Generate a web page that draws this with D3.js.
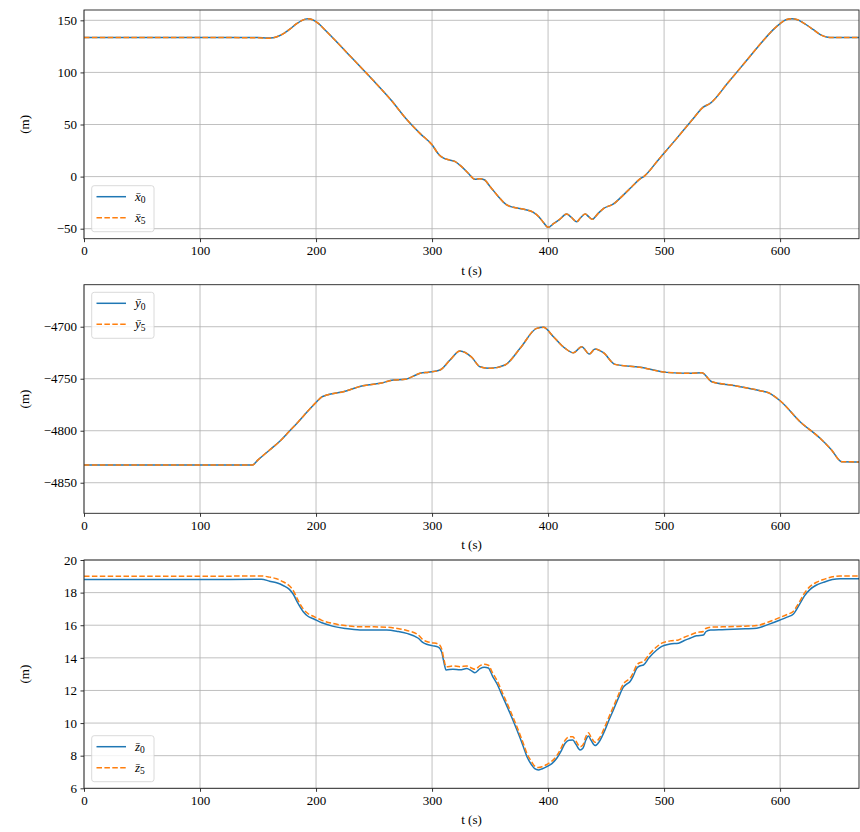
<!DOCTYPE html>
<html><head><meta charset="utf-8">
<script src="https://cdn.jsdelivr.net/npm/d3@7"></script>
<style>body{margin:0;background:#fff}svg{display:block}text{font-family:"Liberation Serif","DejaVu Serif",serif;fill:#000}</style>
</head><body><svg id="c" width="860" height="832"></svg>
<script>
// ---- data ----
const tX = [0,100,150,158,163,168,173,178,183,188,193,197,202,208,215,230,250,265,278,290,300,306,310,315,320,325,331,337,341,345,350,357,364,370,380,387,392,396,400,405,410,416,420,424.7,428,432,435,438,443,448,456,465,472,479,483,495,510,525,533,540,555,570,585,595,600,605,610,615,620,628.7,635,640,645,668];
const x0 = [133.5,133.5,133.5,133,133.3,135,138,142,146.5,150,151.5,150.5,147,140.5,132.5,115,91.5,73,55,41,30.5,21,17.7,16,14.4,10,3.5,-2.5,-2,-3,-9.5,-19,-27,-29.5,-31.5,-34,-38.5,-44,-48.7,-45,-41,-36,-39,-43.3,-39.5,-36,-38.5,-41,-35.5,-30.5,-26.5,-17.5,-10,-2.5,0.5,16,35.5,55.5,66,70.5,90,110,130,142,146.8,150.5,151.6,150.5,147.5,141,136,134,133.5,133.5];
const x5 = [133.5,133.5,133.2,132.7,133.2,135,138,142,146.5,150,151.5,150.5,147,140.5,132.5,115,91.5,73,55,41,30.5,21,17.7,16,14.4,10,3.5,-2.5,-2,-3,-9.5,-19,-27,-29.5,-31.5,-34,-38.5,-44,-48.7,-45,-41,-36,-39,-43.3,-39.5,-36,-38.5,-41,-35.5,-30.5,-26.5,-17.5,-10,-2.5,0.5,16,35.5,55.5,66,70.5,90,110,130,142,146.8,150.5,151.6,150.5,147.5,141,136,134,133.5,133.5];

const tY = [0,145,150,160,169,177,184.8,193,200.6,205,209.2,223.5,239.4,255.2,266.7,276.7,283,289.7,297,306.9,315.5,324.1,334.2,341.4,350,362.9,375.9,390.2,396,404.6,414.7,421.8,429,435.6,440.5,447.7,457.8,479.3,502.3,522.4,532.5,541.1,560,582.8,590,600,617.2,634.5,644,653.2,668];
const y0 = [-4833,-4833,-4828,-4818.5,-4809.9,-4800.5,-4791.3,-4781,-4772.1,-4767.5,-4765.7,-4762.5,-4757,-4754.4,-4751.3,-4750.6,-4748,-4744.8,-4743.7,-4741.6,-4732,-4723.4,-4729.4,-4738.5,-4740,-4736.8,-4720.8,-4701.6,-4700.6,-4709.6,-4720.8,-4725,-4719.2,-4726.3,-4721.4,-4725,-4736.2,-4739,-4743.9,-4744.8,-4744.2,-4752.9,-4756.5,-4761.5,-4763.5,-4771.2,-4791.3,-4807.3,-4818,-4829.8,-4830];
const y5 = [-4833,-4833,-4828,-4818.5,-4809.9,-4800.5,-4791.3,-4781,-4772.1,-4767.5,-4765.7,-4762.5,-4757,-4754.4,-4751.3,-4750.6,-4748,-4744.8,-4743.7,-4741.6,-4732,-4723.4,-4729.4,-4738.5,-4740,-4736.8,-4720.8,-4701.6,-4700.6,-4709.6,-4720.8,-4725,-4719.2,-4726.3,-4721.4,-4725,-4736.2,-4739,-4743.9,-4744.8,-4744.2,-4752.9,-4756.5,-4761.5,-4763.5,-4771.2,-4791.3,-4807.3,-4818,-4829.8,-4830];

const tZ = [0,100,153,160,166,172,177,180.4,184,189,193,197.7,205,214.9,225,237.9,250,260.9,270,278.2,288.2,292,295.4,300,305.4,308.3,310,312.1,318,324.1,329.9,334,337,341.4,345,348.5,352,355.7,361,367.2,373,378.7,382,385.9,388.5,391.6,395,398.9,403,407.5,411,414.7,418,421.3,424,427.6,430,432.5,434.8,437,440.5,444,449.1,452,456.3,461,464.9,468,470.7,473.5,476.4,479,482.2,487,493.7,498,505.2,512.4,517,522.4,528,533.9,536,540,550,559.7,570,579.9,590,600,606,611.5,614,617.2,621,625.9,631,637.3,645,651.7,668];
const z0 = [18.8,18.8,18.82,18.7,18.6,18.42,18.2,17.9,17.4,16.83,16.55,16.4,16.15,15.93,15.8,15.71,15.71,15.7,15.62,15.5,15.2,14.95,14.83,14.75,14.66,14.35,13.8,13.26,13.3,13.27,13.34,13.2,13.09,13.34,13.42,13.38,12.9,12.44,11.6,10.6,9.6,8.55,7.9,7.43,7.2,7.12,7.2,7.33,7.5,7.84,8.25,8.76,8.95,8.96,8.7,8.35,8.45,8.95,9.2,8.95,8.62,8.85,9.58,10.1,10.8,11.6,12.2,12.4,12.55,12.9,13.36,13.5,13.56,14.0,14.48,14.7,14.85,14.9,15.05,15.2,15.35,15.4,15.6,15.7,15.73,15.75,15.78,15.82,16.05,16.32,16.5,16.69,16.95,17.34,17.8,18.2,18.45,18.63,18.8,18.85,18.85];
const z5 = [19.0,19.0,19.02,18.95,18.85,18.65,18.42,18.12,17.6,17.0,16.72,16.55,16.3,16.1,15.98,15.9,15.9,15.88,15.8,15.68,15.4,15.12,15.0,14.93,14.85,14.55,14.0,13.45,13.5,13.46,13.5,13.38,13.3,13.52,13.6,13.55,13.1,12.65,11.8,10.8,9.8,8.75,8.1,7.62,7.36,7.27,7.33,7.46,7.65,8.0,8.43,8.95,9.15,9.16,8.9,8.55,8.65,9.15,9.4,9.15,8.82,9.05,9.8,10.3,11.0,11.8,12.4,12.6,12.75,13.1,13.55,13.7,13.77,14.2,14.68,14.9,15.04,15.1,15.25,15.4,15.55,15.62,15.8,15.88,15.9,15.92,15.94,15.98,16.2,16.48,16.66,16.86,17.12,17.5,17.97,18.38,18.62,18.8,18.97,19.02,19.02];

const xTicks = [0,100,200,300,400,500,600];
const yTicksX = [-50,0,50,100,150];
const yTicksY = [-4850,-4800,-4750,-4700];
const yTicksZ = [6,8,10,12,14,16,18,20];
const legendNames = [["x̄","0","x̄","5"],["ȳ","0","ȳ","5"],["z̄","0","z̄","5"]];

// ---- drawing ----
const svg = d3.select("#c");
const L = 84, R = 859;
const panels = [
  {t:tX, a:x0, b:x5, top:10, bot:238.7, dom:[-59.6,159.9], ticks:yTicksX, legY:185.7, names:legendNames[0]},
  {t:tY, a:y0, b:y5, top:284.7, bot:513.3, dom:[-4879.4,-4659.6], ticks:yTicksY, legY:292.3, names:legendNames[1]},
  {t:tZ, a:z0, b:z5, top:560, bot:788.3, dom:[6,20], ticks:yTicksZ, legY:735.7, names:legendNames[2]}
];
const fmt = d => d < 0 ? "\u2212" + Math.abs(d) : String(d);

panels.forEach(p => {
  const x = d3.scaleLinear().domain([0,668]).range([L,R]);
  const y = d3.scaleLinear().domain(p.dom).range([p.bot,p.top]);
  const g = svg.append("g");
  // grid
  g.selectAll(".gx").data(xTicks).join("line")
    .attr("x1",d=>x(d)).attr("x2",d=>x(d)).attr("y1",p.top).attr("y2",p.bot)
    .attr("stroke","#b0b0b0").attr("stroke-width",0.8);
  g.selectAll(".gy").data(p.ticks).join("line")
    .attr("x1",L).attr("x2",R).attr("y1",d=>y(d)).attr("y2",d=>y(d))
    .attr("stroke","#b0b0b0").attr("stroke-width",0.8);
  // lines
  const data = p.t.map((t,i)=>({t, a:p.a[i], b:p.b[i]}));
  const clipId = "clip"+p.top;
  svg.append("clipPath").attr("id",clipId).append("rect")
    .attr("x",L).attr("y",p.top).attr("width",R-L).attr("height",p.bot-p.top);
  const lg = g.append("g").attr("clip-path",`url(#${clipId})`);
  lg.append("path").datum(data)
    .attr("d", d3.line().x(d=>x(d.t)).y(d=>y(d.a)).curve(d3.curveMonotoneX))
    .attr("fill","none").attr("stroke","#1f77b4").attr("stroke-width",1.5);
  lg.append("path").datum(data)
    .attr("d", d3.line().x(d=>x(d.t)).y(d=>y(d.b)).curve(d3.curveMonotoneX))
    .attr("fill","none").attr("stroke","#ff7f0e").attr("stroke-width",1.5)
    .attr("stroke-dasharray","5.5,2.4");
  // axes
  const ax = g.append("g").attr("transform",`translate(0,${p.bot})`)
    .call(d3.axisBottom(x).tickValues(xTicks).tickSize(3.5).tickPadding(3.5).tickFormat(d=>d));
  const ay = g.append("g").attr("transform",`translate(${L},0)`)
    .call(d3.axisLeft(y).tickValues(p.ticks).tickSize(3.5).tickPadding(3.5).tickFormat(fmt));
  [ax,ay].forEach(a=>{
    a.select(".domain").remove();
    a.selectAll(".tick line").attr("stroke","#000").attr("stroke-width",0.8);
    a.selectAll(".tick text").attr("font-size",13).attr("font-family","Liberation Serif, serif").attr("fill","#222");
  });
  // spines
  g.append("rect").attr("x",L).attr("y",p.top).attr("width",R-L).attr("height",p.bot-p.top)
    .attr("fill","none").attr("stroke","#222").attr("stroke-width",0.9);
  // labels
  g.append("text").attr("x",(L+R)/2).attr("y",p.bot+36).attr("text-anchor","middle")
    .attr("font-size",13).text("t (s)");
  g.append("text").attr("transform",`translate(29,${(p.top+p.bot)/2}) rotate(-90)`)
    .attr("text-anchor","middle").attr("font-size",13).text("(m)");
  // legend
  const leg = g.append("g");
  leg.append("rect").attr("x",91.7).attr("y",p.legY).attr("width",62.3).attr("height",46)
    .attr("rx",2.5).attr("fill","#fff").attr("fill-opacity",0.8).attr("stroke","#d0d0d0").attr("stroke-width",0.8);
  const rows = [{c:"#1f77b4",dash:null,n:p.names[0],s:p.names[1]},{c:"#ff7f0e",dash:"5.5,2.4",n:p.names[2],s:p.names[3]}];
  rows.forEach((r,i)=>{
    const yy = p.legY + 11 + i*21;
    leg.append("line").attr("x1",96.5).attr("x2",126).attr("y1",yy).attr("y2",yy)
      .attr("stroke",r.c).attr("stroke-width",1.5).attr("stroke-dasharray",r.dash);
    const tx = leg.append("text").attr("x",135).attr("y",yy+4).attr("font-size",13);
    tx.append("tspan").attr("font-style","italic").text(r.n);
    tx.append("tspan").attr("font-size",9.5).attr("dy",2.5).text(r.s);
  });
});
</script></body></html>
